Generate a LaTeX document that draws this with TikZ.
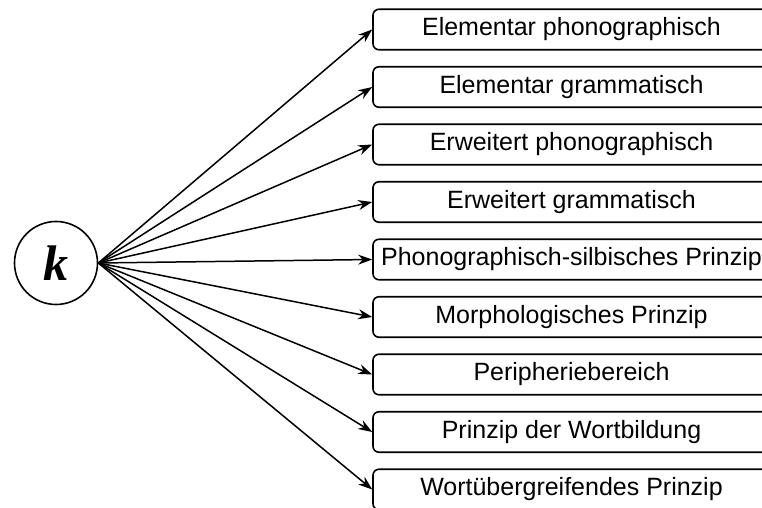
\documentclass[tikz,border=0pt]{standalone}
\usepackage{fontspec}
\setmainfont{Liberation Sans}
\newfontfamily\kfont{Liberation Serif}
\usetikzlibrary{arrows.meta}
\usetikzlibrary{positioning}
\tikzstyle{feld}=[draw,line width=1.6pt,rounded corners=6pt,minimum width=397pt,
                minimum height=40.5pt,inner sep=0,font=\fontsize{25}{25}\selectfont]
\tikzstyle{pfeil}=[-{Stealth[length=14pt,width=10pt]},line width=1.5pt]

\begin{document}
\begin{tikzpicture}[x=1pt,y=1pt,node distance=15.4pt]
\clip (0,0) rectangle (762,508);
\node[circle,draw,line width=1.6pt,minimum size=83pt,inner sep=0] (k) at (56,245)
  {\kfont\fontsize{50}{50}\selectfont\bfseries\itshape k};
% die neun Kategorien
\node[feld] (e1) at (571.5,478.5) {Elementar phonographisch};
\node[feld,below=of e1] (e2) {Elementar grammatisch};
\node[feld,below=of e2] (e3) {Erweitert phonographisch};
\node[feld,below=of e3] (e4) {Erweitert grammatisch};
\node[feld,below=of e4] (e5) {Phonographisch-silbisches Prinzip};
\node[feld,below=of e5] (e6) {Morphologisches Prinzip};
\node[feld,below=of e6] (e7) {Peripheriebereich};
\node[feld,below=of e7] (e8) {Prinzip der Wortbildung};
\node[feld,below=of e8] (e9) {Wortübergreifendes Prinzip};
\draw[pfeil] (k.east) -- (e1.west);
\draw[pfeil] (k.east) -- (e2.west);
\draw[pfeil] (k.east) -- (e3.west);
\draw[pfeil] (k.east) -- (e4.west);
\draw[pfeil] (k.east) -- (e5.west);
\draw[pfeil] (k.east) -- (e6.west);
\draw[pfeil] (k.east) -- (e7.west);
\draw[pfeil] (k.east) -- (e8.west);
\draw[pfeil] (k.east) -- (e9.west);
\end{tikzpicture}
\end{document}
